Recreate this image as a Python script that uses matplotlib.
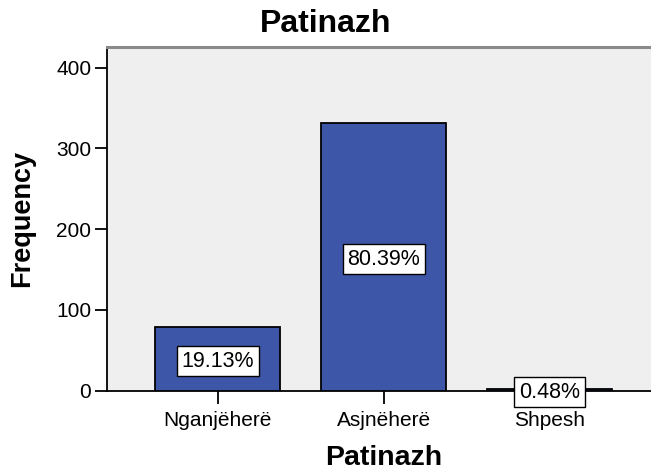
import matplotlib

matplotlib.use("Agg")
import matplotlib.pyplot as plt

# ── data ────────────────────────────────────────────────────────────────────
categories = ["Nganjëherë", "Asjnëherë", "Shpesh"]
counts = [79, 332, 2]
pct_labels = ["19.13%", "80.39%", "0.48%"]
y_ticks = [0, 100, 200, 300, 400]

BAR_COLOR = "#3D56A8"
BG_COLOR = "#EFEFEF"

plt.rcParams["font.family"] = ["Liberation Sans", "DejaVu Sans"]

fig = plt.figure(figsize=(6.51, 4.71), dpi=100)
ax = fig.add_axes([106.5 / 651, 80.5 / 471, 1 - 106.5 / 651, (390.5 - 46.7) / 471])
ax.set_facecolor(BG_COLOR)

x = list(range(len(categories)))
ax.bar(x, counts, width=0.755, color=BAR_COLOR, edgecolor="black", linewidth=1.3, zorder=3)

for xi, c, lab in zip(x, counts, pct_labels):
    ax.text(
        xi, c / 2, lab, ha="center", va="center_baseline", fontsize=15.5, zorder=5,
        bbox=dict(boxstyle="square,pad=0.22", facecolor="white", edgecolor="black", linewidth=1.0),
    )

ax.set_xlim(-0.67, 2.0 + (651 - 549.7) / 166)
ax.set_ylim(0, 426)
ax.set_xticks(x)
ax.set_xticklabels(categories, fontsize=15)
ax.set_yticks(y_ticks)
ax.tick_params(axis="y", labelsize=15, length=9, width=1.3, pad=2)
ax.tick_params(axis="x", length=9, width=1.3, pad=6)

for side in ("left", "bottom"):
    ax.spines[side].set_color("black")
    ax.spines[side].set_linewidth(1.3)
ax.spines["right"].set_visible(False)
ax.spines["top"].set_color("#8A8A8A")
ax.spines["top"].set_linewidth(2.2)

ax.set_ylabel("Frequency", fontsize=19.5, fontweight="bold", labelpad=15)
# x label sits at the bottom edge, centred under the (clipped) plot frame
fig.text(383.5 / 651, 6 / 471, "Patinazh", ha="center", va="baseline", fontsize=20.5, fontweight="bold")
fig.text(0.5, 1 - 24 / 471, "Patinazh", ha="center", va="center", fontsize=23, fontweight="bold")

fig.savefig("out.png", dpi=100, facecolor="white")
